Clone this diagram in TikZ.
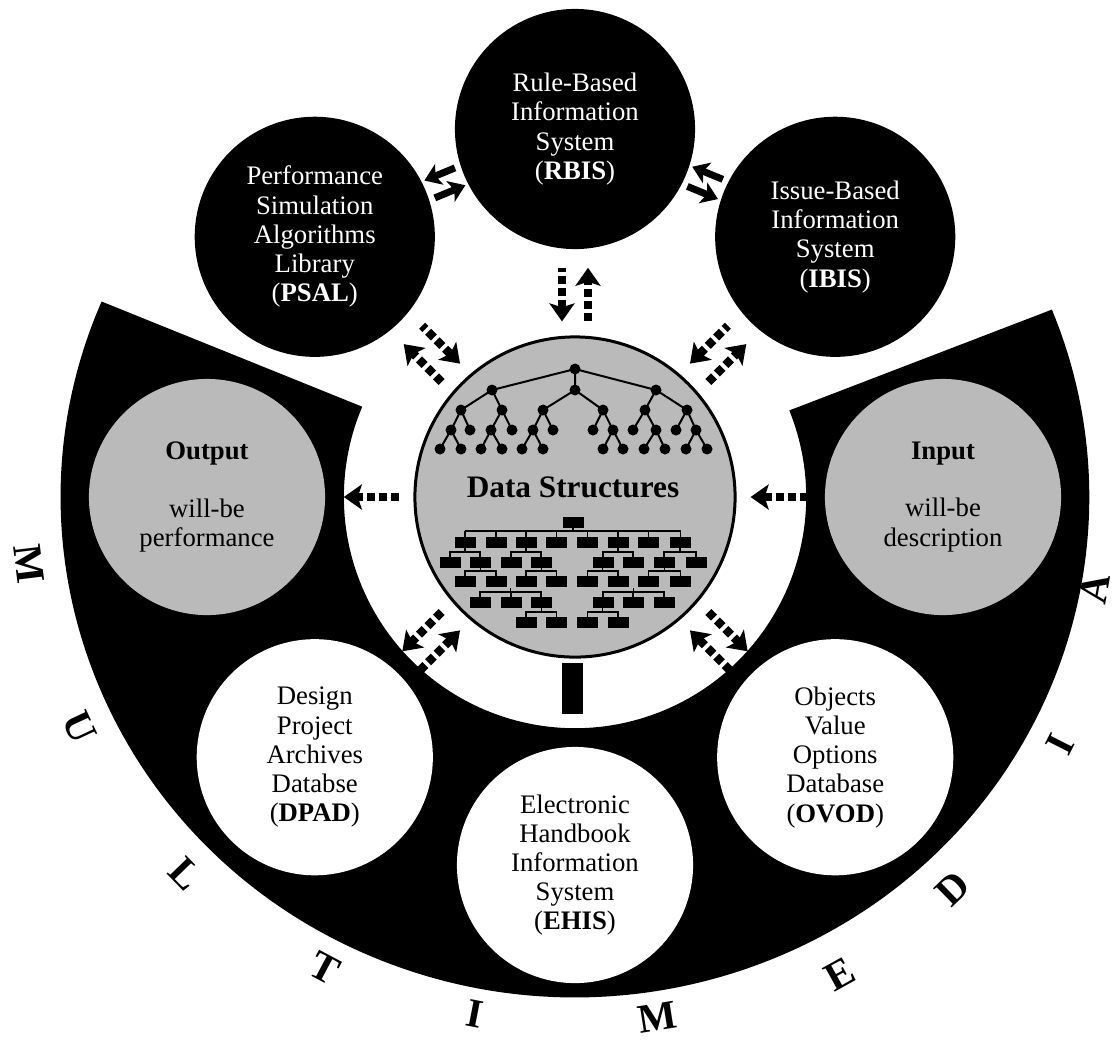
\documentclass[tikz,border=0pt]{standalone}
\usepackage{fontspec}
\setmainfont{Liberation Serif}
\usetikzlibrary{arrows.meta}
\begin{document}
\begin{tikzpicture}[x=0.01cm,y=0.01cm,
  txt/.style={circle,inner sep=0pt,align=center,font=\fontsize{7.6}{8.3}\selectfont},
  blk/.style={txt,fill=black,text=white,minimum size=2.4cm},
  wht/.style={txt,fill=white,minimum size=2.36cm},
  gry/.style={txt,fill=black!27,minimum size=2.36cm},
  dsh/.style={line width=0.085cm,dash pattern=on 0.08cm off 0.04cm,shorten <=0.14cm,shorten >=0.18cm},
  outa/.style={dsh,-{Stealth[width=0.25cm,length=0.18cm,inset=0.04cm]}},
  ina/.style={dsh,{Stealth[width=0.25cm,length=0.18cm,inset=0.04cm]}-},
  sar/.style={line width=0.07cm,shorten <=0.05cm,shorten >=0.02cm,-{Stealth[width=0.22cm,length=0.16cm,inset=0.04cm]}},
  org/.style={line width=0.013cm},
  letter/.style={font=\fontsize{11.6}{12}\selectfont\bfseries}]
\useasboundingbox (-575,-547) rectangle (544,497);
\fill (157:2.31cm) -- (157:5.14cm and 5cm) arc[start angle=157,end angle=382,x radius=5.14cm,y radius=5cm]
  -- (22:2.31cm) arc[start angle=22,end angle=-203,radius=2.31cm] -- cycle;

\node[circle,draw,line width=0.03cm,fill=black!27,minimum size=3.2cm,inner sep=0pt] (ds) at (0,0) {};
\node[blk] (rbis) at (90:368) {Rule-Based\\Information\\System\\(\textbf{RBIS})};
\node[blk] (psal) at (135:368) {Performance\\Simulation\\Algorithms\\Library\\(\textbf{PSAL})};
\node[blk] (ibis) at (45:368) {Issue-Based\\Information\\System\\(\textbf{IBIS})};
\node[gry] (outp) at (180:368) {\textbf{Output}\\[8pt]will-be\\performance};
\node[gry] (inp) at (0:368) {\textbf{Input}\\[8pt]will-be\\description};
\node[wht] (dpad) at (225:368) {Design\\Project\\Archives\\Databse\\(\textbf{DPAD})};
\node[wht] (ehis) at (270:368) {Electronic\\Handbook\\Information\\System\\(\textbf{EHIS})};
\node[wht] (ovod) at (315:368) {Objects\\Value\\Options\\Database\\(\textbf{OVOD})};

\draw[line width=0.02cm] (0,128) -- (-83,107) (0,128) -- (0,107) (0,128) -- (81,107);
\foreach \p/\c in {-83/-114,-83/-73,0/-32,0/28,81/70,81/112} \draw[line width=0.02cm] (\p,107) -- (\c,87);
\foreach \p/\c in {-114/-124,-114/-105,-73/-84,-73/-63,-32/-42,-32/-22,28/18,28/38,70/58,70/81,112/101,112/121}
  \draw[line width=0.02cm] (\p,87) -- (\c,67);
\foreach \p/\c in {-124/-135,-124/-114,-84/-94,-84/-73,-42/-53,-42/-32,38/28,38/48,81/69,81/90,121/111,121/132}
  \draw[line width=0.02cm] (\p,67) -- (\c,48);
\foreach \x/\y in {0/128,-83/107,0/107,81/107} \fill (\x,\y) circle (0.055cm);
\foreach \x in {-114,-73,-32,28,70,112} \fill (\x,87) circle (0.055cm);
\foreach \x in {-124,-105,-84,-63,-42,-22,18,38,58,81,101,121} \fill (\x,67) circle (0.055cm);
\foreach \x in {-135,-114,-94,-73,-53,-32,28,48,69,90,111,132} \fill (\x,48) circle (0.055cm);

\node[font=\fontsize{8.9}{10}\selectfont\bfseries,anchor=base,inner sep=0pt] (dstitle) at (-2,0) {Data Structures};

\fill (-12.5,-30.5) rectangle ++(21,11);
\draw[org] (-2,-30.5) -- (-2,-34) (-110,-34) -- (105.5,-34);
\foreach \x in {-110,-79,-49,-18.5,12.5,43,73.5,105.5} {\fill (\x-10.5,-51) rectangle ++(21,11); \draw[org] (\x,-34) -- (\x,-40);}
\foreach \x in {-125,-95,-64,-34,28,58,89,121} \fill (\x-10.5,-70.5) rectangle ++(21,11);
\foreach \x in {-110,-79,-49,-18.5,12.5,43,73.5,105.5} \fill (\x-10.5,-90) rectangle ++(21,11);
\foreach \x in {-95,-64,-34,28,58,89} \fill (\x-10.5,-110.5) rectangle ++(21,11);
\foreach \x in {-49,-18.5,12.5,43} \fill (\x-10.5,-131) rectangle ++(21,11);
\foreach \a/\b/\y in {-125/-95/-55,-64/-34/-55,28/58/-55,89/121/-55,-110/-79/-74,-49/-18.5/-74,12.5/43/-74,73.5/105.5/-74,
  -95/-34/-95,28/89/-95,-49/-18.5/-115,12.5/43/-115}
  \draw[org] (\a,\y-4.5) -- (\a,\y) -- (\b,\y) -- (\b,\y-4.5) ({(\a+\b)/2},\y) -- ++(0,4);
\draw[org] (-64,-95) -- (-64,-99.5) (58,-95) -- (58,-99.5);

\fill ([xshift=-0.13cm,yshift=-0.045cm]ds.south) rectangle ([xshift=0.08cm,yshift=-0.555cm]ds.south);

\draw[ina,transform canvas={shift={(180:0.13cm)}}] (ds) -- (rbis);
\draw[outa,transform canvas={shift={(0:0.13cm)}}] (ds) -- (rbis);
\draw[ina,transform canvas={shift={(45:0.13cm)}}] (ds) -- (psal);
\draw[outa,transform canvas={shift={(225:0.13cm)}}] (ds) -- (psal);
\draw[ina,transform canvas={shift={(135:0.13cm)}}] (ds) -- (ibis);
\draw[outa,transform canvas={shift={(315:0.13cm)}}] (ds) -- (ibis);
\draw[ina,transform canvas={shift={(315:0.13cm)}}] (ds) -- (dpad);
\draw[outa,transform canvas={shift={(135:0.13cm)}}] (ds) -- (dpad);
\draw[ina,transform canvas={shift={(225:0.13cm)}}] (ds) -- (ovod);
\draw[outa,transform canvas={shift={(45:0.13cm)}}] (ds) -- (ovod);
\draw[outa] (ds) -- (outp);
\draw[ina] (ds) -- (inp);

\draw[sar,transform canvas={shift={(112.5:0.1cm)}}] (rbis) -- (psal);
\draw[sar,transform canvas={shift={(-67.5:0.1cm)}}] (psal) -- (rbis);
\draw[sar,transform canvas={shift={(67.5:0.1cm)}}] (ibis) -- (rbis);
\draw[sar,transform canvas={shift={(-112.5:0.1cm)}}] (rbis) -- (ibis);

\foreach \a/\r/\t [count=\i] in {187/550/M,205/546/U,224/542/L,242/533/T,259/527/I,279/527/M,299/546/E,314/544/D,333/545/I,350/528/A}
  \node[letter,rotate=\a+90] (m\i) at (\a:\r) {\t};
\end{tikzpicture}
\end{document}
